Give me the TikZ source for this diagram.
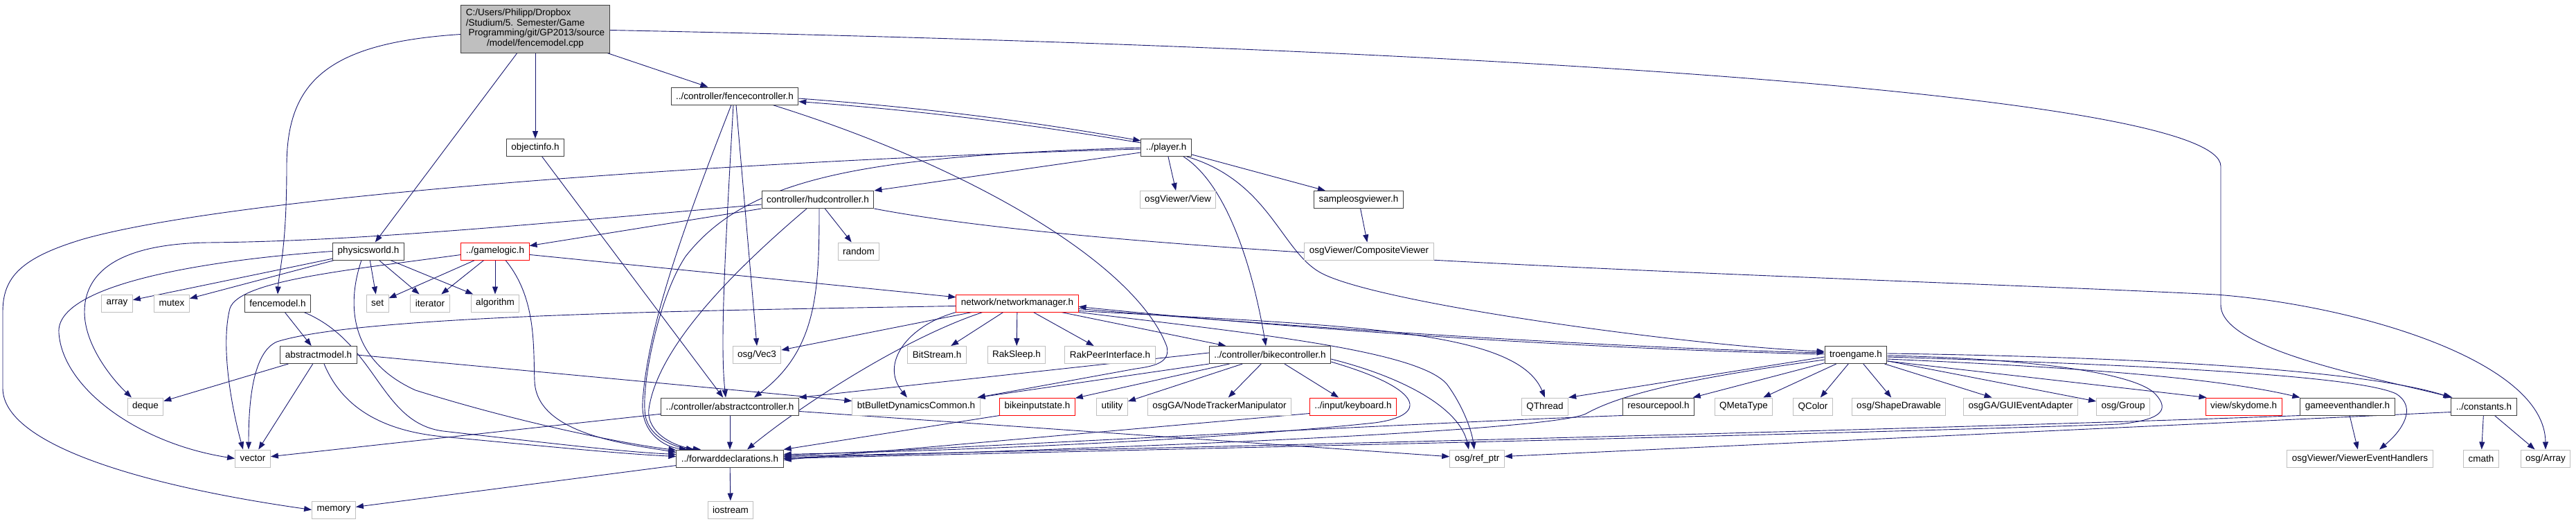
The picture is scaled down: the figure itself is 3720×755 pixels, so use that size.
\documentclass[tikz,border=0pt]{standalone}
\usepackage{fontspec}
\setmainfont{Liberation Sans}
\usetikzlibrary{arrows.meta, backgrounds}
\definecolor{edgeBlue}{HTML}{191970}
\definecolor{extGray}{HTML}{BFBFBF}
\definecolor{truncRed}{HTML}{FF0000}

\begin{document}
\begin{tikzpicture}[x=1pt, y=-1pt,
    hdr/.style={draw=black!75, line width=1pt, fill=white, minimum height=25pt,
        inner xsep=7pt, inner ysep=0pt, font=\fontsize{13.5}{14.7}\selectfont},
    ext/.style={hdr, draw=extGray},
    trunc/.style={hdr, draw=truncRed},
    srcfile/.style={hdr, fill=extGray, minimum width=214pt, minimum height=69pt},
    dep/.style={draw=edgeBlue, line width=0.9pt, -{Triangle[length=11pt,width=8pt]}}]
    \useasboundingbox (0,0) rectangle (3720,755);

    % rank 0 .. 2
    \node[srcfile] (root) at (773,41.5) {\begin{tabular}{@{}l@{}}C:/Users/Philipp/Dropbox\\/Studium/5. Semester/Game\\\ Programming/git/GP2013/source\\\multicolumn{1}{@{}c@{}}{/model/fencemodel.cpp}\end{tabular}};
    \node[hdr] (fc) at (1061,138.5) {../controller/fencecontroller.h};
    \node[hdr] (oi) at (773,213) {objectinfo.h};
    \node[hdr] (pl) at (1684,213) {../player.h};
    \node[hdr] (hud) at (1181,288) {controller/hudcontroller.h};
    \node[ext] (view) at (1701,288) {osgViewer/View};
    \node[hdr] (sov) at (1962,288) {sampleosgviewer.h};

    % rank 3
    \node[hdr] (pw) at (532,362.5) {physicsworld.h};
    \node[trunc] (gl) at (715,362.5) {../gamelogic.h};
    \node[ext] (rnd) at (1240,362.5) {random};
    \node[ext] (cv) at (1977,362.5) {osgViewer/CompositeViewer};

    % rank 4
    \node[ext] (arr) at (169,437.5) {array};
    \node[ext] (mtx) at (248,437.5) {mutex};
    \node[hdr] (fm) at (401,437.5) {fencemodel.h};
    \node[ext] (set) at (545,437.5) {set};
    \node[ext] (iter) at (621,437.5) {iterator};
    \node[ext] (alg) at (715,437.5) {algorithm};
    \node[trunc] (nm) at (1469,437.5) {network/networkmanager.h};

    % rank 5
    \node[hdr] (am) at (460,512) {abstractmodel.h};
    \node[ext] (vecthree) at (1093,512) {osg/Vec3};
    \node[ext] (bits) at (1353,512) {BitStream.h};
    \node[ext] (rsl) at (1468,512) {RakSleep.h};
    \node[ext] (rpi) at (1603,512) {RakPeerInterface.h};
    \node[hdr] (bc) at (1834,512) {../controller/bikecontroller.h};
    \node[hdr] (tg) at (2680,512) {troengame.h};

    % rank 6
    \node[ext] (deq) at (210,586.5) {deque};
    \node[hdr] (ac) at (1054,586.5) {../controller/abstractcontroller.h};
    \node[ext] (btb) at (1323,586.5) {btBulletDynamicsCommon.h};
    \node[trunc] (bis) at (1498,586.5) {bikeinputstate.h};
    \node[ext] (util) at (1606,586.5) {utility};
    \node[ext] (ntm) at (1761,586.5) {osgGA/NodeTrackerManipulator};
    \node[trunc] (kb) at (1954,586.5) {../input/keyboard.h};
    \node[ext] (qt) at (2231,586.5) {QThread};
    \node[hdr] (rp) at (2395,586.5) {resourcepool.h};
    \node[ext] (qmt) at (2518,586.5) {QMetaType};
    \node[ext] (qc) at (2618,586.5) {QColor};
    \node[ext] (sd) at (2742,586.5) {osg/ShapeDrawable};
    \node[ext] (gea) at (2918,586.5) {osgGA/GUIEventAdapter};
    \node[ext] (grp) at (3066,586.5) {osg/Group};
    \node[trunc] (sky) at (3240,586.5) {view/skydome.h};
    \node[hdr] (geh) at (3390,586.5) {gameeventhandler.h};
    \node[hdr] (cst) at (3587,586.5) {../constants.h};

    % rank 7 .. 8
    \node[ext] (vec) at (365,661.5) {vector};
    \node[hdr] (fd) at (1054,661.5) {../forwarddeclarations.h};
    \node[ext] (ref) at (2133,661.5) {osg/ref\_ptr};
    \node[ext] (veh) at (3408,661.5) {osgViewer/ViewerEventHandlers};
    \node[ext] (cm) at (3583,661.5) {cmath};
    \node[ext] (oa) at (3676,661.5) {osg/Array};
    \node[ext] (mem) at (482,735.5) {memory};
    \node[ext] (ios) at (1055,735.5) {iostream};

    \begin{scope}[on background layer]
    % fencemodel.cpp
    \draw[dep] (root) -- (fc);
    \draw[dep] (root) -- (oi);
    \draw[dep] (root) -- (pw);
    \draw[dep] ([yshift=-8pt]root.west) .. controls (470,62) and (414,120) .. (414,240) .. controls (414,360) and (403,390) .. (fm.north);
    \draw[dep] ([yshift=-2pt]root.east) .. controls (2200,70) and (3207,140) .. (3207,240) -- (3207,440) .. controls (3207,505) and (3430,545) .. ([xshift=2pt]cst.north west);

    % fencecontroller.h
    \draw[dep] ([yshift=-3.5pt]fc.east) .. controls (1400,160) and (1560,188) .. ([yshift=-3pt]pl.north west);
    \draw[dep] ([xshift=-5pt]fc.south) .. controls (990,320) and (935,470) .. (928,580) .. controls (925,625) and (960,645) .. ([xshift=-62pt]fd.north);
    \draw[dep] ([xshift=-2pt]fc.south) .. controls (1046,380) and (1040,500) .. ([xshift=-6pt]ac.north);
    \draw[dep] ([xshift=2pt]fc.south) -- (vecthree.north);
    \draw[dep] ([xshift=55pt]fc.south) .. controls (1400,240) and (1640,380) .. (1685,500) .. controls (1690,522) and (1670,528) .. (1640,532) -- ([xshift=-4pt]btb.north east);

    % player.h
    \draw[dep] ([yshift=-6pt]pl.north west) .. controls (1560,192) and (1400,165) .. ([yshift=-8pt]fc.east);
    \draw[dep] ([yshift=-7pt]pl.west) -- (hud.north east);
    \draw[dep] ([yshift=-2pt]pl.west) .. controls (1100,230) and (350,280) .. (120,345) .. controls (30,372) and (4,400) .. (4,450) -- (4,560) .. controls (4,640) and (200,700) .. (mem.west);
    \draw[dep] (pl.west) .. controls (1250,225) and (1080,255) .. (990,370) .. controls (950,430) and (925,560) .. (932,600) .. controls (938,632) and (975,645) .. ([xshift=-52pt]fd.north);
    \draw[dep] (pl) -- (view);
    \draw[dep] (pl) -- (sov);
    \draw[dep] ([xshift=25pt]pl.south) .. controls (1770,265) and (1808,380) .. ([xshift=-6pt]bc.north);
    \draw[dep] ([xshift=30pt]pl.south) .. controls (1835,262) and (1850,365) .. (1910,395) .. controls (2000,440) and (2450,500) .. ([yshift=5pt]tg.west);

    \draw[dep] (oi) -- (ac);

    % hudcontroller.h
    \draw[dep] ([yshift=-7pt]hud.west) .. controls (700,330) and (500,348) .. (300,350) .. controls (160,352) and (122,400) .. (122,450) .. controls (122,500) and (165,550) .. ([xshift=-20pt]deq.north);
    \draw[dep] (hud) -- (gl);
    \draw[dep] (hud) -- (rnd);
    \draw[dep] ([xshift=2pt]hud.south) .. controls (1183,420) and (1180,505) .. ([xshift=35pt]ac.north);
    \draw[dep] ([xshift=-16pt]hud.south) .. controls (1060,390) and (950,500) .. (937,590) .. controls (933,625) and (975,645) .. ([xshift=-42pt]fd.north);
    \draw[dep] (hud.south east) .. controls (1650,375) and (2700,400) .. (3200,425) .. controls (3400,440) and (3675,520) .. (oa.north);
    \draw[dep] (sov) -- (cv);

    % physicsworld.h
    \draw[dep] (pw) -- (arr);
    \draw[dep] (pw) -- (mtx);
    \draw[dep] (pw) -- (set);
    \draw[dep] (pw) -- (iter);
    \draw[dep] (pw) -- (alg);
    \draw[dep] (pw.west) .. controls (300,375) and (80,410) .. (85,480) .. controls (90,560) and (200,640) .. (vec.west);
    \draw[dep] ([xshift=-10pt]pw.south) .. controls (500,440) and (505,520) .. (600,563) .. controls (750,610) and (900,640) .. ([yshift=12pt]fd.west);

    % gamelogic.h
    \draw[dep] (gl) -- (set);
    \draw[dep] (gl) -- (iter);
    \draw[dep] (gl) -- (alg);
    \draw[dep] ([yshift=-5pt]gl.west) .. controls (500,390) and (345,405) .. (332,445) .. controls (318,500) and (335,590) .. ([xshift=-14pt]vec.north);
    \draw[dep] ([xshift=15pt]gl.south) .. controls (775,430) and (770,500) .. (772,550) .. controls (775,625) and (900,640) .. ([yshift=9pt]fd.west);
    \draw[dep] (gl) -- (nm);

    % fencemodel.h, abstractmodel.h
    \draw[dep] (fm) -- (am);
    \draw[dep] ([xshift=38pt]fm.south) .. controls (545,495) and (548,610) .. (640,622) .. controls (800,640) and (900,652) .. ([yshift=6pt]fd.west);
    \draw[dep] (am) -- (deq);
    \draw[dep] (am) -- (vec);
    \draw[dep] ([xshift=8pt]am.south) .. controls (495,590) and (555,622) .. (640,630) .. controls (800,645) and (900,655) .. ([yshift=3pt]fd.west);
    \draw[dep] (am.east) -- ([yshift=8pt]btb.west);

    % networkmanager.h
    \draw[dep] ([yshift=-4pt]nm.west) .. controls (1000,448) and (520,455) .. (400,493) .. controls (365,508) and (359,580) .. ([xshift=-6pt]vec.north);
    \draw[dep] (nm) -- (vecthree);
    \draw[dep] (nm) -- (bits);
    \draw[dep] (nm) -- (rsl);
    \draw[dep] (nm) -- (rpi);
    \draw[dep] (nm) -- (bc);
    \draw[dep] (nm.south west) .. controls (1310,470) and (1270,525) .. ([xshift=-13pt]btb.north);
    \draw[dep] ([xshift=-50pt]nm.south) .. controls (1300,490) and (1150,590) .. ([xshift=25pt]fd.north);
    \draw[dep] ([yshift=-8pt]nm.east) .. controls (1950,478) and (2350,502) .. ([yshift=3pt]tg.west);
    \draw[dep] ([yshift=-11pt]nm.east) .. controls (1950,470) and (2190,475) .. (qt.north);
    \draw[dep] (nm.south east) .. controls (1800,480) and (2050,505) .. (2090,555) .. controls (2112,585) and (2125,620) .. ([xshift=-4pt]ref.north);

    % bikecontroller.h
    \draw[dep] ([yshift=3pt]bc.west) -- (ac.north east);
    \draw[dep] (bc.south west) -- ([xshift=-4pt]btb.north east);
    \draw[dep] (bc) -- (bis);
    \draw[dep] (bc) -- (util);
    \draw[dep] (bc) -- (ntm);
    \draw[dep] (bc) -- (kb);
    \draw[dep] ([yshift=-6pt]bc.east) .. controls (2030,545) and (2108,590) .. ([xshift=-12pt]ref.north);
    \draw[dep] ([yshift=-10pt]bc.east) .. controls (2060,562) and (2062,600) .. (1985,610) .. controls (1700,640) and (1300,652) .. ([yshift=6pt]fd.east);
    \draw[dep] (bis.south west) -- (fd.north east);
    \draw[dep] ([yshift=-10pt]kb.west) -- ([yshift=-2pt]fd.east);

    % abstractcontroller.h, forwarddeclarations.h
    \draw[dep] (ac) -- (fd);
    \draw[dep] (ac) -- (vec);
    \draw[dep] (ac) -- (ref);
    \draw[dep] (fd) -- (mem);
    \draw[dep] (fd) -- (ios);

    % troengame.h
    \draw[dep] ([yshift=1pt]tg.west) .. controls (2350,505) and (1950,482) .. ([yshift=-5pt]nm.east);
    \draw[dep] ([yshift=-3pt]tg.west) -- (qt.north east);
    \draw[dep] ([yshift=-7pt]tg.west) .. controls (2420,548) and (2335,572) .. (2290,597) .. controls (2240,622) and (1600,648) .. ([yshift=1pt]fd.east);
    \draw[dep] (tg) -- (rp);
    \draw[dep] (tg) -- (qmt);
    \draw[dep] (tg) -- (qc);
    \draw[dep] (tg) -- (sd);
    \draw[dep] (tg) -- (gea);
    \draw[dep] (tg) -- (grp);
    \draw[dep] ([yshift=-9pt]tg.east) -- ([xshift=2pt]sky.north west);
    \draw[dep] ([yshift=-6pt]tg.east) .. controls (3000,530) and (3200,545) .. (geh.north west);
    \draw[dep] ([yshift=2pt]tg.east) .. controls (3100,515) and (3420,535) .. (cst.north west);
    \draw[dep] ([yshift=-3pt]tg.east) .. controls (3050,525) and (3400,540) .. (3460,568) .. controls (3492,588) and (3468,622) .. ([xshift=28pt]veh.north);
    \draw[dep] ([yshift=-1pt]tg.east) .. controls (2950,518) and (3085,540) .. (3112,568) .. controls (3135,592) and (3120,606) .. (3060,612) .. controls (2600,628) and (1600,650) .. (fd.east);
    \draw[dep] (rp.south west) .. controls (2100,608) and (1500,640) .. ([yshift=4pt]fd.east);

    % gameeventhandler.h, constants.h
    \draw[dep] (geh) -- (veh);
    \draw[dep] (geh.south west) .. controls (3000,612) and (2000,640) .. ([yshift=3pt]fd.east);
    \draw[dep] (cst) -- (cm);
    \draw[dep] (cst) -- (oa);
    \draw[dep] ([yshift=-8pt]cst.west) -- ([yshift=3pt]ref.east);
    \end{scope}
\end{tikzpicture}
\end{document}
